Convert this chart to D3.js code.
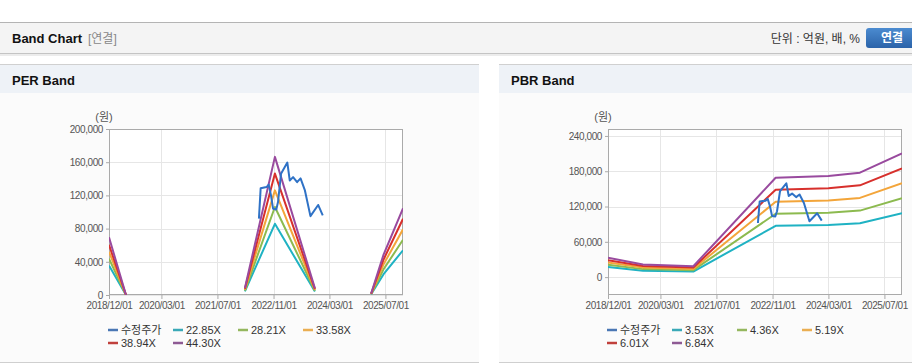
<!DOCTYPE html>
<html>
<head>
<meta charset="utf-8">
<script src="https://cdn.jsdelivr.net/npm/d3@7"></script>
<style>
  body { margin: 0; background: #fff; }
  svg { display: block; font-family: "Liberation Sans", Arial, "Noto Sans CJK KR", sans-serif; }
</style>
</head>
<body>
<svg id="chart" width="912" height="364"></svg>
<script>
// price series (수정주가)
const priceDates = ["2022-06-27", "2022-07-12", "2022-09-01", "2022-09-20", "2022-10-10", "2022-10-28", "2022-11-25",
  "2022-12-10", "2023-01-05", "2023-03-01", "2023-03-22", "2023-04-20", "2023-05-25", "2023-06-24",
  "2023-08-01", "2023-09-18", "2023-11-24", "2024-01-03"];
const priceValues = [92000, 128500, 130000, 133000, 120000, 104000, 103000,
  112000, 146000, 159500, 138000, 142000, 136000, 140500,
  126000, 95000, 108500, 96000];

// PER band (null = no band)
const perDates = ["2018-12-01", "2019-04-28", "2019-05-01", "2022-02-25", "2022-11-13", "2023-10-27", "2023-11-01",
  "2025-02-27", "2025-06-15", "2025-12-01"];
const perLabels = ["22.85X", "28.21X", "33.58X", "38.94X", "44.30X"];
const per1 = [35400, 0, null, 4340, 85800, 4110, null, 910, 25100, 53900];
const per2 = [43700, 0, null, 5360, 106000, 5080, null, 1130, 31000, 66500];
const per3 = [52000, 0, null, 6380, 126100, 6040, null, 1340, 36900, 79100];
const per4 = [60400, 0, null, 7400, 146300, 7010, null, 1560, 42800, 91800];
const per5 = [69500, 0, null, 8420, 166400, 7970, null, 1770, 48700, 104400];

// PBR band
const pbrDates = ["2018-12-01", "2019-10-01", "2020-12-12", "2022-11-28", "2024-03-01", "2024-11-30", "2025-12-01"];
const pbrLabels = ["3.53X", "4.36X", "5.19X", "6.01X", "6.84X"];
const pbr1 = [17400, 11000, 9500, 87200, 88600, 91600, 108500];
const pbr2 = [21200, 13600, 11800, 107700, 109400, 113100, 134000];
const pbr3 = [25000, 16200, 14000, 128200, 130300, 134700, 159500];
const pbr4 = [28900, 18800, 16200, 148400, 150900, 156000, 184700];
const pbr5 = [32900, 21400, 18500, 169000, 171700, 177500, 210200];

const xTicks = ["2018-12-01", "2020-03-01", "2021-07-01", "2022-11-01", "2024-03-01", "2025-07-01"];
const perYTicks = [0, 40000, 80000, 120000, 160000, 200000];
const pbrYTicks = [0, 60000, 120000, 180000, 240000];

const priceColor = "#2f72c6";
const bandColors = ["#1fb2c3", "#8cba4f", "#f3a53a", "#d7302c", "#994a9e"];
const legendColors = ["#4a77b4", "#3aa9b7", "#94b75e", "#eaae52", "#c0403c", "#8e5a94"];

const parse = d3.timeParse("%Y-%m-%d");
const svg = d3.select("#chart");

// ---- page header ----
svg.append("rect").attr("x", 0).attr("y", 22).attr("width", 912).attr("height", 1).attr("fill", "#b4b4b4");
svg.append("rect").attr("x", 0).attr("y", 23).attr("width", 912).attr("height", 30).attr("fill", "#f4f4f4");
svg.append("rect").attr("x", 0).attr("y", 53).attr("width", 912).attr("height", 1).attr("fill", "#c4c4c4");
svg.append("rect").attr("x", 0).attr("y", 54).attr("width", 912).attr("height", 2).attr("fill", "#ececec");
svg.append("text").attr("x", 12).attr("y", 43).attr("font-size", "13px").attr("font-weight", "bold")
  .attr("fill", "#111").text("Band Chart");
svg.append("text").attr("x", 88).attr("y", 43).attr("font-size", "12px").attr("fill", "#888").text("[연결]");
svg.append("text").attr("x", 860).attr("y", 43).attr("font-size", "12px").attr("fill", "#333")
  .attr("text-anchor", "end").text("단위 : 억원, 배, %");

const grad = svg.append("defs").append("linearGradient").attr("id", "btn").attr("x1", 0).attr("x2", 0).attr("y1", 0).attr("y2", 1);
grad.append("stop").attr("offset", "0%").attr("stop-color", "#4b8bd0");
grad.append("stop").attr("offset", "100%").attr("stop-color", "#2b63a9");
svg.append("rect").attr("x", 866).attr("y", 28).attr("width", 52).attr("height", 20).attr("rx", 3).attr("fill", "url(#btn)");
svg.append("text").attr("x", 892).attr("y", 42).attr("text-anchor", "middle").attr("font-size", "12px")
  .attr("font-weight", "bold").attr("fill", "#fff").text("연결");

// ---- one panel ----
function drawPanel(opt) {
  const g = svg.append("g");
  g.append("rect").attr("x", opt.px).attr("y", 64).attr("width", opt.pw).attr("height", 1).attr("fill", "#d0d0d0");
  g.append("rect").attr("x", opt.px).attr("y", 65).attr("width", opt.pw).attr("height", 28).attr("fill", "#eef2f7");
  g.append("rect").attr("x", opt.px).attr("y", 93).attr("width", opt.pw).attr("height", 269).attr("fill", "#fbfbfb");
  g.append("rect").attr("x", opt.px).attr("y", 362).attr("width", opt.pw).attr("height", 1).attr("fill", "#cfcfcf");
  g.append("text").attr("x", opt.px + 12).attr("y", 85).attr("font-size", "13px").attr("font-weight", "bold")
    .attr("fill", "#111").text(opt.title);

  const x = d3.scaleTime().domain([parse("2018-12-01"), parse("2025-12-01")]).range([opt.left, opt.right]);
  const y = d3.scaleLinear().domain(opt.yDomain).range([opt.bottom, opt.top]);

  g.append("rect").attr("x", opt.left).attr("y", opt.top).attr("width", opt.right - opt.left)
    .attr("height", opt.bottom - opt.top).attr("fill", "#fff");

  // grid
  g.selectAll(null).data(opt.yTicks).join("line")
    .attr("x1", opt.left).attr("x2", opt.right)
    .attr("y1", d => Math.round(y(d)) + 0.5).attr("y2", d => Math.round(y(d)) + 0.5)
    .attr("stroke", "#e6e6e6");
  g.selectAll(null).data(xTicks.map(parse)).join("line")
    .attr("x1", d => Math.round(x(d)) + 0.5).attr("x2", d => Math.round(x(d)) + 0.5)
    .attr("y1", opt.top).attr("y2", opt.bottom)
    .attr("stroke", "#e6e6e6");

  // axes
  const ya = g.append("g").attr("transform", `translate(${opt.left},0)`)
    .call(d3.axisLeft(y).tickValues(opt.yTicks).tickSize(3).tickPadding(3).tickFormat(d3.format(",")));
  const xa = g.append("g").attr("transform", `translate(0,${opt.bottom})`)
    .call(d3.axisBottom(x).tickValues(xTicks.map(parse)).tickSize(4).tickPadding(3).tickFormat(d3.timeFormat("%Y/%m/%d")));
  [ya, xa].forEach(a => {
    a.select(".domain").remove();
    a.selectAll("line").attr("stroke", "#aaa");
    a.selectAll("text").attr("fill", "#555").attr("font-size", "10px").attr("letter-spacing", "-0.4px")
      .attr("font-family", "\"Liberation Sans\", Arial, sans-serif");
  });

  g.append("rect").attr("x", opt.left + 0.5).attr("y", opt.top + 0.5).attr("width", opt.right - opt.left - 1)
    .attr("height", opt.bottom - opt.top - 1).attr("fill", "none").attr("stroke", "#aaa");

  g.append("text").attr("x", opt.left - 5).attr("y", opt.top - 8).attr("text-anchor", "middle")
    .attr("font-size", "11px").attr("fill", "#555").text("(원)");

  // series
  const clipId = "clip" + opt.px;
  g.append("clipPath").attr("id", clipId).append("rect")
    .attr("x", opt.left).attr("y", opt.top).attr("width", opt.right - opt.left).attr("height", opt.bottom - opt.top);
  const plot = g.append("g").attr("clip-path", `url(#${clipId})`);

  const line = d3.line().defined(d => d[1] !== null).x(d => x(d[0])).y(d => y(d[1]));
  const bandDates = opt.bandDates.map(parse);
  opt.bands.forEach((vals, i) => {
    plot.append("path")
      .datum(vals.map((v, j) => [bandDates[j], v]))
      .attr("d", line).attr("fill", "none").attr("stroke", bandColors[i]).attr("stroke-width", 2)
      .attr("stroke-linejoin", "round");
  });
  plot.append("path")
    .datum(priceValues.map((v, j) => [parse(priceDates[j]), v]))
    .attr("d", line).attr("fill", "none").attr("stroke", priceColor).attr("stroke-width", 2)
    .attr("stroke-linejoin", "round");

  // legend
  const names = ["수정주가"].concat(opt.labels);
  names.forEach((name, i) => {
    const lx = opt.legendX + (i % 4) * 65;
    const ly = 330 + Math.floor(i / 4) * 13;
    g.append("line").attr("x1", lx).attr("x2", lx + 10).attr("y1", ly).attr("y2", ly)
      .attr("stroke", legendColors[i]).attr("stroke-width", 2.5);
    g.append("text").attr("x", lx + 13).attr("y", ly + 4).attr("font-size", "11px").attr("fill", "#333")
      .text(name);
  });
}

drawPanel({
  title: "PER Band", px: 0, pw: 479,
  left: 109, right: 403, top: 129, bottom: 295,
  yDomain: [0, 200000], yTicks: perYTicks,
  bandDates: perDates, bands: [per1, per2, per3, per4, per5], labels: perLabels,
  legendX: 108
});

drawPanel({
  title: "PBR Band", px: 499, pw: 413,
  left: 608, right: 902, top: 129, bottom: 295,
  yDomain: [-30400, 251800], yTicks: pbrYTicks,
  bandDates: pbrDates, bands: [pbr1, pbr2, pbr3, pbr4, pbr5], labels: pbrLabels,
  legendX: 607
});
</script>
</body>
</html>
